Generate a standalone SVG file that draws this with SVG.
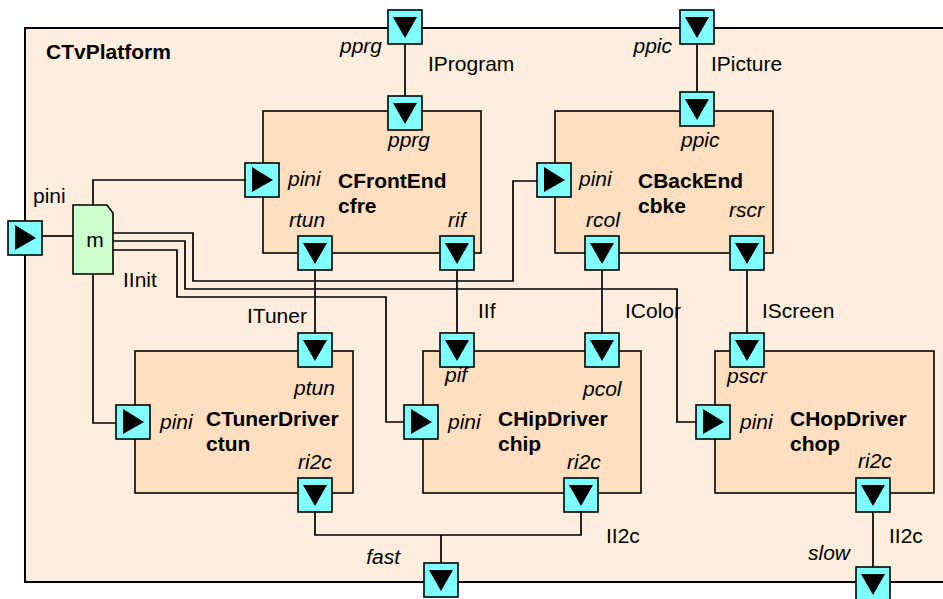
<svg xmlns="http://www.w3.org/2000/svg" xmlns:xlink="http://www.w3.org/1999/xlink" width="943" height="599" viewBox="0 0 943 599">
<style>
text{font-family:"Liberation Sans",Arial,sans-serif;font-size:21px;fill:#000}
.b{font-weight:bold}
.i{font-style:italic}
.frame{fill:#FFEEDD;stroke:#000;stroke-width:2}
.box{fill:#FFDFC0;stroke:#000;stroke-width:1.6}
.pbox{fill:#80FFFF;stroke:#000;stroke-width:1.6}
.wire{fill:none;stroke:#000;stroke-width:1.7}
.mnode{fill:#CCFFCC;stroke:#000;stroke-width:1.6}
</style>
<defs>
<g id="pd"><rect class="pbox" x="0" y="0" width="34" height="34"/><polygon points="5,7 29,7 17,28" fill="#000"/></g>
<g id="pr"><rect class="pbox" x="0" y="0" width="34" height="34"/><polygon points="7,4 7,29 28,17" fill="#000"/></g>
</defs>
<g id="CTvPlatform">
<rect class="frame" x="25" y="28" width="940" height="554"/>
<text class="b" x="46" y="59">CTvPlatform</text>
</g>
<g id="connectors">
<path class="wire" d="M405 44 V96"/>
<path class="wire" d="M697 44 V92"/>
<path class="wire" d="M315 270 V333"/>
<path class="wire" d="M457 270 V333"/>
<path class="wire" d="M602 270 V333"/>
<path class="wire" d="M747 270 V333"/>
<path class="wire" d="M315 512 V535 H581 V512 M441 535 V563"/>
<path class="wire" d="M873 512 V567"/>
<path class="wire" d="M42 236 H73"/>
<path class="wire" d="M93 205 V180 H245"/>
<path class="wire" d="M93 274 V423 H116"/>
<path class="wire" d="M113 233 H193 V281 H513 V181 H537"/>
<path class="wire" d="M113 241 H185 V289 H677 V422 H696"/>
<path class="wire" d="M113 250 H177 V297 H386 V422 H404"/>
<text x="428" y="71">IProgram</text>
<text x="711" y="71">IPicture</text>
<text x="123" y="287">IInit</text>
<text x="247" y="323">ITuner</text>
<text x="478" y="318">IIf</text>
<text x="625" y="318">IColor</text>
<text x="762" y="318">IScreen</text>
<text x="606" y="543">II2c</text>
<text x="889" y="543">II2c</text>
</g>
<g id="port-pini">
<use xlink:href="#pr" x="8" y="221"/>
<text x="33" y="203">pini</text>
</g>
<g id="port-pprg">
<use xlink:href="#pd" x="388" y="10"/>
<text class="i" x="382" y="53" text-anchor="end">pprg</text>
</g>
<g id="port-ppic">
<use xlink:href="#pd" x="680" y="10"/>
<text class="i" x="672" y="53" text-anchor="end">ppic</text>
</g>
<g id="port-fast">
<use xlink:href="#pd" x="424" y="563"/>
<text class="i" x="400" y="564" text-anchor="end">fast</text>
</g>
<g id="port-slow">
<use xlink:href="#pd" x="856" y="567"/>
<text class="i" x="850" y="560" text-anchor="end">slow</text>
</g>
<g id="m">
<path class="mnode" d="M73 205 H107 L113 213 V274 H73 Z"/>
<text x="95" y="247" text-anchor="middle">m</text>
</g>
<g id="cfre">
<rect class="box" x="263" y="111" width="218" height="142"/>
<use xlink:href="#pd" x="388" y="96"/>
<use xlink:href="#pr" x="245" y="163"/>
<use xlink:href="#pd" x="298" y="236"/>
<use xlink:href="#pd" x="440" y="236"/>
<text class="i" x="409" y="147" text-anchor="middle">pprg</text>
<text class="i" x="288" y="186">pini</text>
<text class="b" x="338" y="188">CFrontEnd</text>
<text class="b" x="338" y="213">cfre</text>
<text class="i" x="289" y="227">rtun</text>
<text class="i" x="448" y="227">rif</text>
</g>
<g id="cbke">
<rect class="box" x="555" y="111" width="218" height="142"/>
<use xlink:href="#pd" x="680" y="92"/>
<use xlink:href="#pr" x="537" y="163"/>
<use xlink:href="#pd" x="585" y="236"/>
<use xlink:href="#pd" x="730" y="236"/>
<text class="i" x="681" y="147">ppic</text>
<text class="i" x="579" y="186">pini</text>
<text class="b" x="638" y="188">CBackEnd</text>
<text class="b" x="638" y="213">cbke</text>
<text class="i" x="586" y="227">rcol</text>
<text class="i" x="729" y="217">rscr</text>
</g>
<g id="ctun">
<rect class="box" x="135" y="351" width="218" height="142"/>
<use xlink:href="#pd" x="298" y="333"/>
<use xlink:href="#pr" x="116" y="405"/>
<use xlink:href="#pd" x="298" y="478"/>
<text class="i" x="294" y="395">ptun</text>
<text class="i" x="160" y="429">pini</text>
<text class="b" x="206" y="426">CTunerDriver</text>
<text class="b" x="206" y="451">ctun</text>
<text class="i" x="298" y="469">ri2c</text>
</g>
<g id="chip">
<rect class="box" x="423" y="351" width="218" height="142"/>
<use xlink:href="#pd" x="440" y="333"/>
<use xlink:href="#pd" x="585" y="333"/>
<use xlink:href="#pr" x="404" y="405"/>
<use xlink:href="#pd" x="564" y="478"/>
<text class="i" x="445" y="382">pif</text>
<text class="i" x="583" y="396">pcol</text>
<text class="i" x="448" y="429">pini</text>
<text class="b" x="498" y="426">CHipDriver</text>
<text class="b" x="498" y="451">chip</text>
<text class="i" x="567" y="469">ri2c</text>
</g>
<g id="chop">
<rect class="box" x="715" y="351" width="219" height="142"/>
<use xlink:href="#pd" x="730" y="333"/>
<use xlink:href="#pr" x="696" y="405"/>
<use xlink:href="#pd" x="856" y="478"/>
<text class="i" x="727" y="383">pscr</text>
<text class="i" x="740" y="429">pini</text>
<text class="b" x="790" y="426">CHopDriver</text>
<text class="b" x="790" y="451">chop</text>
<text class="i" x="858" y="468">ri2c</text>
</g>
</svg>
